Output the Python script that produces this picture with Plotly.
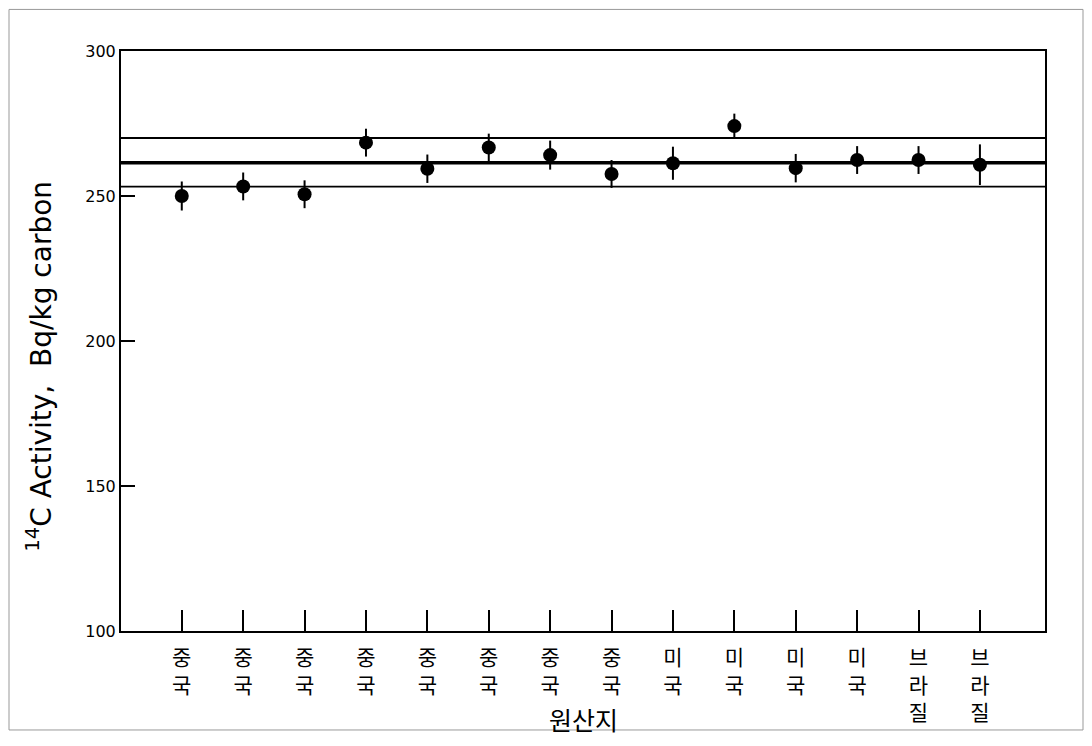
import plotly.graph_objects as go

# Data
origins = ["중국", "중국", "중국", "중국", "중국", "중국", "중국", "중국",
           "미국", "미국", "미국", "미국", "브라질", "브라질"]
activity = [250.0, 253.3, 250.6, 268.4, 259.4, 266.7, 264.1, 257.6,
            261.3, 274.1, 259.6, 262.4, 262.4, 260.8]
error = [5.0, 4.8, 4.8, 4.8, 4.9, 4.8, 5.0, 4.8,
         5.7, 4.3, 4.9, 4.8, 4.8, 7.0]
mean_value = 261.5
upper_value = 270.0
lower_value = 253.2
y_ticks = [100, 150, 200, 250, 300]

positions = list(range(len(origins)))
tick_text = ["<br>".join(list(o)) for o in origins]

# page has an 8px body margin; figure sized so the page fits the window exactly
FIG_W, FIG_H = 1076, 730
ML, MT, MR, MB = 113, 43, 39, 101
PW, PH = FIG_W - ML - MR, FIG_H - MT - MB  # 924 x 586

fig = go.Figure()

fig.add_trace(go.Scatter(
    x=positions, y=activity, mode="markers",
    marker=dict(color="black", size=14, symbol="circle"),
    error_y=dict(type="data", array=error, visible=True, color="black",
                 thickness=2, width=0),
    showlegend=False,
))

for val, w in [(upper_value, 1.8), (mean_value, 3.5), (lower_value, 1.8)]:
    fig.add_shape(type="line", xref="paper", x0=0, x1=1, yref="y", y0=val, y1=val,
                  line=dict(color="black", width=w))

# page border (scan frame) along the figure edge
fig.add_shape(type="rect", xref="paper", yref="paper",
              x0=-(ML - 1) / PW, x1=1 + (MR - 1) / PW,
              y0=-(MB - 1) / PH, y1=1 + (MT - 1) / PH,
              line=dict(color="#999999", width=1))

# y axis title
fig.add_annotation(
    xref="paper", yref="paper", x=(32 - ML) / PW, y=(MT + PH - 362) / PH,
    text="<sup>14</sup>C Activity,&nbsp;&nbsp;Bq/kg carbon", textangle=-90,
    showarrow=False, xanchor="center", yanchor="middle",
    font=dict(family="DejaVu Sans", size=28, color="black"),
)

# x axis title
fig.add_annotation(
    xref="paper", yref="paper", x=0.5, y=(MT + PH - 718) / PH,
    text="원산지", showarrow=False, xanchor="center", yanchor="middle",
    font=dict(family="Noto Sans CJK KR", size=25, color="black"),
)

fig.update_layout(
    width=FIG_W, height=FIG_H,
    paper_bgcolor="white", plot_bgcolor="white",
    margin=dict(l=ML, r=MR, t=MT, b=MB),
    font=dict(family="DejaVu Sans, Liberation Sans, sans-serif", color="black"),
    xaxis=dict(
        range=[-0.99, 14.06], tickmode="array", tickvals=positions, ticktext=tick_text,
        ticks="inside", ticklen=21, tickwidth=2, tickcolor="black",
        showline=True, linecolor="black", linewidth=2, mirror=True,
        showgrid=False, zeroline=False, ticklabelstandoff=7,
        tickfont=dict(family="Noto Sans CJK KR", size=21),
    ),
    yaxis=dict(
        range=[100, 300], tickmode="array", tickvals=y_ticks,
        ticks="inside", ticklen=14, tickwidth=2, tickcolor="black",
        showline=True, linecolor="black", linewidth=2, mirror=True,
        showgrid=False, zeroline=False,
        tickfont=dict(family="DejaVu Sans", size=16),
    ),
)

fig.write_html("out.html")
